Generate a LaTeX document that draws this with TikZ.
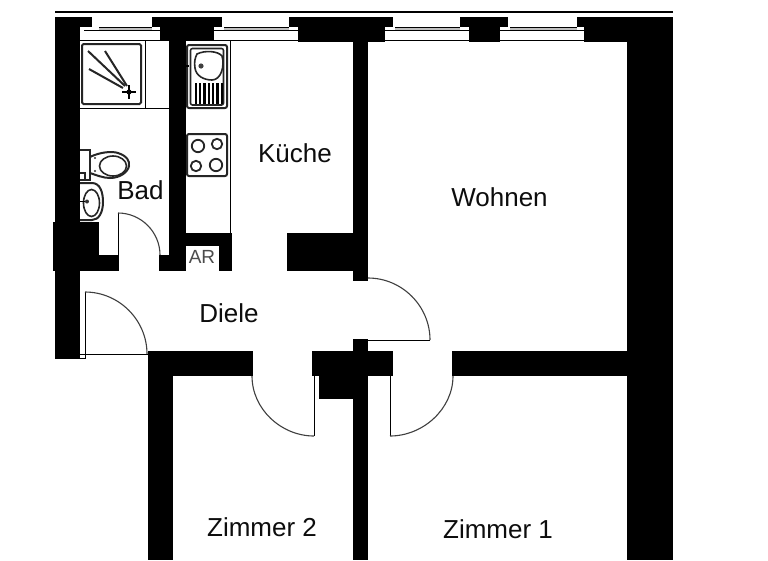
\documentclass[tikz,border=0pt]{standalone}
\usepackage{fontspec}
\setmainfont{Liberation Sans}
\tikzset{
  wall/.style={fill=black,draw=none},
  thin line/.style={draw=black,line width=1pt},
  hair/.style={draw=black!75,line width=1.1pt},
  fixture/.style={draw=black!85,line width=1.6pt},
  heavy fixture/.style={draw=black!85,line width=2pt},
  room/.style={font=\fontsize{26}{27}\selectfont,inner sep=0pt,text=black!95},
  small room/.style={font=\fontsize{19}{20}\selectfont,inner sep=0pt,text=black!70}
}
\begin{document}
\begin{tikzpicture}[x=1pt,y=-1pt]
\useasboundingbox (0,0) rectangle (768,560);
\fill[white] (0,0) rectangle (768,560);
% top edge
\draw[black,line width=1.4pt] (55,12) -- (673,12);
% window frames
\foreach \a/\b in {92/152,222/289,393/460,508/577}{
  \fill[black!25] (\a,27) rectangle (\b,30);
  \draw[thin line] (\a,27) -- (\b,27);
}
% walls
\fill[wall] (55,17) rectangle (80,358.5);
\fill[wall] (55,17) rectangle (92,27);
\fill[wall] (152,17) rectangle (222,27);
\fill[wall] (160,27) rectangle (214,41);
\fill[wall] (169,41) rectangle (186,271);
\fill[wall] (289,17) rectangle (393,27);
\fill[wall] (298,27) rectangle (385,42);
\fill[wall] (353,42) rectangle (368,281);
\fill[wall] (460,17) rectangle (508,27);
\fill[wall] (469,27) rectangle (500,42);
\fill[wall] (577,17) rectangle (673,27);
\fill[wall] (584,27) rectangle (673,42);
\fill[wall] (627,42) rectangle (673,560);
\fill[wall] (287,233) rectangle (368,271);
\fill[wall] (53,222) rectangle (99,271);
\fill[wall] (53,255) rectangle (119,271);
\fill[wall] (159,255) rectangle (186,271);
\fill[wall] (185,233) rectangle (232,246);
\fill[wall] (219,233) rectangle (232,271);
\fill[wall] (148,351) rectangle (253,376);
\fill[wall] (148,351) rectangle (173,560);
\fill[wall] (312,351) rectangle (393,376);
\fill[wall] (353,339) rectangle (368,560);
\fill[wall] (319,376) rectangle (368,399);
\fill[wall] (452,351) rectangle (627,376);
% window sills
\foreach \a/\b in {84/160,214/298,385/469,500/584}{
  \draw[thin line] (\a,30) -- (\b,30);
  \draw[thin line] (\a,40.5) -- (\b,40.5);
}
\foreach \a in {92,217,289,388,460,503,577}{
  \fill[white] (\a,26.5) rectangle ++(7,3);
}
% door of the flat
\draw[thin line] (85,292) -- (85,358) -- (80,358);
\draw[thin line] (55,354) -- (148,354);
\draw[hair] (85,292) .. controls (119,292) and (147,320) .. (147,354);
% bath door
\draw[thin line] (118,213) -- (118,255);
\draw[hair] (118,213) .. controls (141,213) and (160,232) .. (160,255);
% living room door
\draw[thin line] (368,340) -- (430,340);
\draw[hair] (368,278) .. controls (402,278) and (430,306) .. (430,340);
% room 2 door
\draw[thin line] (314,376) -- (314,436);
\draw[hair] (252,376) .. controls (252,409) and (281,436) .. (314,436);
% room 1 door
\draw[thin line] (390,376) -- (390,436);
\draw[hair] (453,376) .. controls (453,409) and (423,436) .. (390,436);
% shower
\draw[thin line] (80,40.5) -- (169,40.5);
\draw[thin line] (80,108.5) -- (169,108.5);
\draw[thin line] (145.5,40.5) -- (145.5,108.5);
\draw[heavy fixture,rounded corners=1.5pt] (82,44) rectangle (141,104);
\draw[heavy fixture] (88,51) -- (125,86);
\draw[heavy fixture] (105,51) -- (127,86);
\draw[heavy fixture] (89,69) -- (123,88);
\draw[black,line width=1.5pt] (122,92) -- (136,92) (129,85) -- (129,99);
\fill[black] (129,92) circle (2.6);
% kitchen counter
\draw[thin line] (230,40.5) -- (230,233);
% sink
\draw[heavy fixture,rounded corners=2pt] (187,45) rectangle (227,108);
\draw[fixture,rounded corners=2pt] (190.5,48.5) rectangle (223.5,105);
\draw[fixture] (197,54) .. controls (205,50) and (218,51) .. (222,56) .. controls (225,66) and (221,80) .. (212,80) .. controls (204,80) and (196,76) .. (195,68) .. controls (194,62) and (195,58) .. (197,54) -- cycle;
\fill[black!75] (201,66) circle (2.6);
\foreach \x in {196,200.3,204.6,208.9,213.2,217.5,221.8}{
  \draw[black,line width=2.3pt] (\x,83) -- (\x,103.5);
}
\draw[black,line width=1.5pt] (186,66) -- (189,66);
% stove
\draw[heavy fixture,rounded corners=2pt] (187,134) rectangle (227,176);
\draw[black!85,line width=1.8pt] (198,146) circle (6.2);
\draw[black!85,line width=1.8pt] (217,144) circle (5.2);
\draw[black!85,line width=1.8pt] (196,166) circle (5.2);
\draw[black!85,line width=1.8pt] (216,165) circle (6.2);
% toilet
\draw[heavy fixture] (80,150) -- (90,150) -- (90,180) -- (80,180);
\draw[fixture] (80,173) -- (85,173) -- (85,180);
\draw[heavy fixture] (90,157) .. controls (100,152) and (112,151) .. (118,153) .. controls (127,156) and (130,161) .. (129,166) .. controls (128,172) and (120,178) .. (110,178) .. controls (103,178) and (96,175) .. (90,173);
\draw[fixture] (113,166) ellipse (13.5 and 10);
\fill[black!80] (95,158) circle (1.2);
\fill[black!80] (95,171) circle (1.2);
% washbasin
\draw[heavy fixture] (80,183) -- (92,183) .. controls (100,183) and (103,192) .. (103,202) .. controls (103,212) and (99,220) .. (92,220) -- (80,220);
\draw[fixture] (91.5,203) ellipse (8 and 13.5);
\draw[black,line width=1.5pt] (80,201.5) -- (89,201.5);
\fill[black!80] (87,201.5) circle (2);
% labels
\node[room] (bad) at (140.5,190.5) {Bad};
\node[room] (kueche) at (295,153.5) {Küche};
\node[room] (wohnen) at (499.5,197.5) {Wohnen};
\node[room] (diele) at (229,313) {Diele};
\node[room] (zimmerzwei) at (262,527.5) {Zimmer 2};
\node[room] (zimmereins) at (498,529.5) {Zimmer 1};
\node[small room] (ar) at (202,256.5) {AR};
\end{tikzpicture}
\end{document}
